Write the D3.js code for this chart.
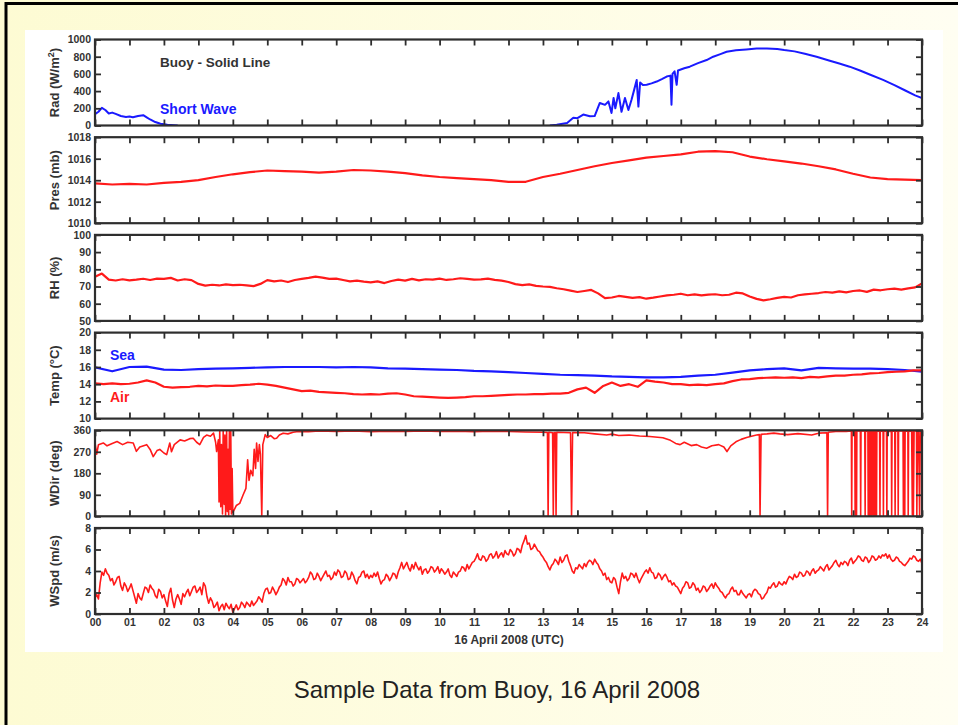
<!DOCTYPE html>
<html>
<head>
<meta charset="utf-8">
<script src="https://cdn.jsdelivr.net/npm/d3@7"></script>
<style>
  html, body { margin: 0; padding: 0; background: #ffffff; }
  svg { display: block; }
  .tick text { font-family: "Liberation Sans", Arial, sans-serif; font-weight: bold; fill: #333; }
</style>
</head>
<body>
<svg id="chart" width="958" height="725"></svg>
<script>
// ---- hour-of-day tick labels ----
const hourTicks = d3.range(0, 25);

// ---- short-wave radiation (W/m^2), [hour, value]; null = sensor off at night ----
const radSW = [
  [0,130],[0.1,160],[0.2,205],[0.3,180],[0.4,140],[0.5,150],[0.6,135],[0.75,110],[0.9,100],[1.0,105],
  [1.1,95],[1.25,110],[1.4,120],[1.5,95],[1.6,70],[1.75,40],[1.9,20],[2.1,8],[2.4,0],[2.5,null],
  [13.1,null],[13.2,0],[13.4,10],[13.7,30],[13.88,89],[14.0,85],[14.17,127],[14.36,107],[14.5,110],[14.65,262],
  [14.8,240],[14.9,280],[14.99,146],[15.05,320],[15.1,200],[15.19,377],[15.28,160],[15.38,320],[15.48,180],[15.57,300],
  [15.65,420],[15.72,530],[15.77,220],[15.82,500],[15.9,470],[16.01,473],[16.15,490],[16.3,511],[16.45,540],[16.59,569],
  [16.7,580],[16.73,242],[16.76,600],[16.82,630],[16.88,473],[16.92,640],[17.1,665],[17.26,684],[17.5,725],[17.75,761],
  [17.94,800],[18.15,830],[18.33,857],[18.6,875],[18.9,885],[19.2,895],[19.5,896],[19.8,890],[20.0,877],[20.3,862],
  [20.6,835],[20.94,800],[21.3,755],[21.6,720],[21.9,684],[22.2,640],[22.5,590],[22.87,530],[23.2,470],[23.5,410],
  [23.8,350],[24,320]
];

// ---- barometric pressure (mb), every 0.5 h ----
const presMb = [
  1013.7,1013.6,1013.65,1013.6,1013.75,1013.85,1014.0,1014.3,1014.55,1014.75,
  1014.9,1014.85,1014.8,1014.7,1014.8,1014.95,1014.9,1014.8,1014.65,1014.45,
  1014.3,1014.2,1014.1,1014.0,1013.85,1013.85,1014.3,1014.6,1014.95,1015.3,
  1015.6,1015.85,1016.1,1016.25,1016.4,1016.65,1016.7,1016.6,1016.2,1015.95,
  1015.75,1015.55,1015.3,1015.0,1014.6,1014.25,1014.1,1014.05,1014.0
];

// ---- relative humidity (%), every 0.2 h ----
const rhPct = [
  75.7,77.5,74.0,73.5,74.2,73.6,74.0,74.5,73.8,74.6,
  74.4,75.0,73.5,74.2,73.7,71.5,70.5,71.0,70.6,71.2,
  70.8,71.0,70.6,70.2,71.5,73.7,73.0,73.5,72.6,73.8,
  74.4,75.0,75.7,75.2,74.4,74.6,73.8,73.0,73.4,72.8,
  72.4,73.0,72.0,73.2,74.0,73.4,74.4,73.6,74.2,74.0,
  74.6,73.8,74.2,74.8,74.4,74.0,74.1,74.6,73.9,73.4,
  72.6,71.4,70.8,71.2,70.4,70.0,69.8,69.0,68.4,67.6,
  66.8,67.4,68.0,66.0,63.2,63.6,64.5,64.0,63.4,63.8,
  62.9,63.5,64.2,64.8,65.2,65.8,64.9,65.4,64.8,65.3,
  65.5,64.9,65.2,66.4,66.0,64.2,62.8,61.9,62.6,63.4,
  64.0,63.6,64.9,65.4,65.8,66.2,66.8,66.4,67.2,66.6,
  67.4,67.7,66.9,68.2,67.8,68.4,68.8,68.2,68.9,69.5,71.8
];

// ---- sea temperature (deg C), every 0.5 h ----
const seaTemp = [
  15.95,15.5,16.0,16.05,15.7,15.65,15.75,15.8,15.85,15.9,
  15.95,16.0,16.0,16.0,15.95,16.0,15.95,15.85,15.8,15.75,
  15.7,15.65,15.55,15.5,15.4,15.3,15.2,15.1,15.05,15.0,
  14.9,14.85,14.8,14.8,14.85,15.0,15.1,15.35,15.6,15.75,
  15.85,15.6,15.9,15.85,15.8,15.8,15.75,15.65,15.45
];

// ---- air temperature (deg C), every 0.25 h ----
const airTemp = [
  14.1,14.0,14.1,14.0,14.05,14.2,14.45,14.2,13.7,13.6,
  13.65,13.7,13.8,13.75,13.85,13.8,13.8,13.9,13.95,14.05,
  13.95,13.8,13.6,13.4,13.2,13.25,13.1,13.05,13.0,12.95,
  12.85,12.8,12.85,12.8,12.9,12.95,12.8,12.6,12.55,12.5,
  12.45,12.4,12.45,12.5,12.6,12.6,12.65,12.7,12.75,12.8,
  12.8,12.85,12.85,12.9,12.9,13.0,13.4,13.6,13.0,13.8,
  14.2,13.8,14.0,13.7,14.45,14.3,14.2,14.0,14.0,13.9,
  13.95,13.9,14.0,14.1,14.35,14.55,14.6,14.7,14.75,14.8,
  14.75,14.8,14.7,14.85,14.8,14.9,15.0,15.0,15.1,15.15,
  15.25,15.3,15.4,15.45,15.5,15.6,15.6
];

// ---- wind direction (deg), [hour, value] ----
const windDir = [
  [0,307],[0.05,260],[0.1,300],[0.24,307],[0.35,295],[0.5,305],[0.64,313],[0.8,300],[0.95,310],[1.11,307],
  [1.2,272],[1.3,290],[1.5,300],[1.6,280],[1.69,250],[1.8,275],[1.88,280],[2.0,265],[2.08,258],[2.17,307],
  [2.22,270],[2.3,300],[2.47,320],[2.6,315],[2.75,325],[2.85,327],[2.95,310],[3.04,300],[3.15,330],[3.24,340],
  [3.35,335],[3.44,348],[3.5,310],[3.53,271],[3.58,320],[3.6,60],[3.62,360],[3.65,40],[3.67,300],[3.7,10],
  [3.72,360],[3.75,50],[3.77,340],[3.79,0],[3.82,360],[3.84,20],[3.86,280],[3.88,5],[3.9,360],[3.92,30],
  [3.94,360],[3.96,10],[3.98,200],[4.0,16],[4.05,30],[4.1,45],[4.2,54],[4.3,90],[4.38,117],[4.43,236],
  [4.47,150],[4.52,193],[4.58,170],[4.62,280],[4.66,200],[4.69,307],[4.73,230],[4.77,300],[4.8,260],[4.84,0],
  [4.87,300],[4.94,342],[5.0,330],[5.1,338],[5.2,325],[5.27,327],[5.35,340],[5.46,348],[5.6,345],[5.75,352],
  [5.9,355],[6.2,354],[6.5,357],[7.0,355],[7.5,357],[8.0,354],[8.5,356],[9.0,355],[9.5,357],[10.0,355],
  [10.5,356],[11.0,354],[11.5,356],[12.0,355],[12.5,353],[13.0,352],[13.13,351],[13.15,0],[13.17,352],[13.28,350],
  [13.3,0],[13.32,350],[13.36,351],[13.38,0],[13.4,352],[13.8,350],[13.83,0],[13.86,351],[14.2,350],[14.5,345],
  [14.85,340],[15.0,344],[15.2,338],[15.5,340],[15.8,336],[16.1,334],[16.48,329],[16.7,318],[16.85,305],[16.98,300],
  [17.1,310],[17.3,296],[17.46,300],[17.6,290],[17.75,285],[17.9,295],[18.1,300],[18.25,290],[18.34,271],[18.45,295],
  [18.6,312],[18.75,322],[18.91,330],[19.05,335],[19.2,340],[19.28,342],[19.3,0],[19.33,343],[19.5,345],[19.7,348],
  [19.87,345],[20.1,342],[20.4,346],[20.8,340],[21.0,348],[21.24,350],[21.26,0],[21.28,352],[21.5,355],[21.8,355],
  [21.95,357],[21.96,2],[21.97,356],[22.05,358],[22.06,4],[22.07,357],[22.09,355],[22.1,1],[22.11,358],[22.21,356],
  [22.22,3],[22.23,357],[22.34,358],[22.35,2],[22.36,355],[22.43,357],[22.44,5],[22.46,356],[22.47,2],[22.49,358],
  [22.5,3],[22.52,354],[22.53,1],[22.55,357],[22.56,6],[22.58,355],[22.59,2],[22.61,357],[22.62,4],[22.64,356],
  [22.65,1],[22.67,358],[22.68,3],[22.69,356],[22.77,357],[22.78,2],[22.79,355],[22.87,358],[22.88,4],[22.89,356],
  [22.97,357],[22.98,1],[22.99,355],[23.11,356],[23.12,3],[23.13,358],[23.21,355],[23.22,2],[23.23,357],[23.3,356],
  [23.31,5],[23.32,357],[23.45,358],[23.46,2],[23.48,355],[23.5,3],[23.51,356],[23.59,357],[23.6,4],[23.61,355],
  [23.7,357],[23.72,6],[23.74,354],[23.75,2],[23.77,356],[23.84,358],[23.85,3],[23.87,355],[23.9,357],[23.93,5],
  [23.95,356],[24.0,355]
];

// ---- wind speed (m/s), every 0.05 h (one row per hour) ----
const windSpd = [
  1.5,1.8,1.4,2.9,3.9,3.6,4.2,3.8,3.6,3.1,3.3,2.7,3.0,3.4,3.5,2.6,2.2,2.9,2.6,2.1,
  2.4,2.8,2.2,1.6,1.0,1.9,1.5,1.3,1.9,2.5,2.4,2.0,2.7,2.4,2.2,1.7,1.5,2.3,2.1,1.5,
  1.8,1.2,0.7,1.9,2.4,1.3,0.6,1.4,1.8,1.4,0.9,1.9,1.6,2.0,2.3,1.7,2.1,2.5,2.6,2.0,
  2.2,2.5,1.8,2.9,2.6,1.6,1.0,1.5,1.2,0.6,0.8,1.1,0.3,0.7,0.9,0.4,1.0,0.7,0.5,0.9,
  0.15,0.5,0.85,0.4,0.6,1.1,0.9,0.6,1.1,0.9,0.7,1.2,0.8,1.0,1.2,1.6,1.4,1.1,1.9,2.3,
  2.4,1.9,2.0,2.5,2.2,1.8,2.1,2.5,2.7,3.3,3.1,2.7,3.4,3.0,3.0,2.6,2.8,3.3,3.2,2.9,
  3.1,3.3,2.9,3.1,3.4,3.9,3.7,3.2,3.3,3.8,3.5,3.1,3.4,3.7,4.0,3.5,3.6,3.2,3.4,3.9,
  3.6,4.1,3.9,3.4,3.5,4.0,3.8,3.2,3.3,3.9,3.6,3.1,2.8,3.4,3.5,3.9,4.0,3.4,3.7,3.3,
  3.6,3.4,3.8,3.5,3.9,3.3,2.8,3.1,3.2,3.7,3.5,3.1,3.4,3.8,3.7,3.3,3.9,4.3,4.8,4.2,
  4.5,4.8,4.3,4.0,4.6,4.2,4.8,4.4,4.1,4.4,3.7,4.1,4.2,3.8,4.0,4.4,4.3,3.9,4.1,4.4,
  3.8,4.2,4.0,3.7,3.9,4.2,3.6,3.4,3.9,3.7,3.5,3.9,4.0,4.4,4.3,4.0,4.6,4.2,4.5,4.8,
  4.9,5.2,5.6,5.1,5.0,5.4,5.3,4.9,5.1,5.5,5.6,5.2,5.4,5.8,5.2,5.5,5.7,5.3,5.9,5.6,
  5.5,6.0,5.8,5.4,5.6,6.1,6.0,5.7,6.4,6.8,7.3,6.5,6.6,6.0,6.1,6.5,6.2,5.9,5.8,5.5,
  5.3,5.0,4.8,4.4,4.1,4.5,4.7,5.1,4.9,4.6,5.3,4.8,5.0,5.4,5.5,4.9,4.5,4.0,3.8,4.3,
  4.2,4.6,4.4,4.2,4.7,4.4,4.8,5.0,4.9,4.6,5.1,4.8,4.6,4.2,4.0,3.6,3.8,3.2,3.4,3.0,
  2.9,3.4,3.2,2.5,1.9,3.0,3.8,3.3,3.5,3.1,3.3,3.8,3.7,3.4,3.8,3.3,2.9,3.3,3.6,3.9,
  4.1,3.8,4.3,3.9,3.8,3.3,3.4,3.8,3.6,3.2,3.5,3.7,3.4,3.0,3.1,2.7,2.9,2.6,2.5,2.2,
  1.9,2.4,2.6,3.0,2.9,2.4,2.5,2.9,2.7,2.2,2.4,2.0,2.2,2.6,2.5,2.1,2.3,2.6,2.8,2.4,
  2.9,2.6,2.4,2.1,2.0,1.7,1.5,1.8,1.9,2.3,2.5,2.1,2.2,1.8,1.8,2.2,1.9,1.7,1.5,1.8,
  1.9,1.6,2.1,2.3,2.2,1.9,1.8,1.4,1.5,1.8,2.0,2.5,2.4,2.7,2.9,2.5,2.6,3.0,2.8,2.7,
  3.0,2.8,3.2,3.5,3.4,3.2,3.7,3.4,3.5,3.9,3.8,3.5,3.6,4.0,3.9,3.6,4.0,4.2,3.8,4.0,
  4.1,4.4,4.2,4.0,4.4,4.6,4.1,4.3,4.5,4.8,5.0,4.6,4.4,4.8,4.6,4.9,4.8,4.5,5.0,5.2,
  4.7,4.9,5.1,5.4,5.3,5.0,4.9,5.3,5.2,4.8,5.0,5.4,5.3,5.0,5.1,5.4,5.2,5.5,5.4,5.6,
  5.2,5.5,5.1,4.9,5.0,5.3,5.2,4.9,4.8,4.6,4.5,4.7,4.9,5.2,5.1,5.4,5.3,5.0,4.9,5.1,
  4.7
];

// pair a regularly sampled series with its hours
const stepped = (vals, dt) => vals.map((v, i) => [i * dt, v]);

const svg = d3.select("#chart");
const W = 958, H = 725;

// page backdrop: pale yellow slide with a white plotting card
const defs = svg.append("defs");
const grad = defs.append("linearGradient").attr("id", "bg").attr("x1", 0).attr("x2", 1).attr("y1", 0).attr("y2", 0);
grad.append("stop").attr("offset", "0%").attr("stop-color", "#fdfbd3");
grad.append("stop").attr("offset", "100%").attr("stop-color", "#fffef2");
svg.append("rect").attr("width", W).attr("height", H).attr("fill", "url(#bg)");
svg.append("line").attr("x1", 6).attr("x2", W).attr("y1", 3.5).attr("y2", 3.5).attr("stroke", "#000").attr("stroke-width", 3);
svg.append("line").attr("x1", 6).attr("x2", 6).attr("y1", 2).attr("y2", H).attr("stroke", "#000").attr("stroke-width", 3);
svg.append("rect").attr("x", 25).attr("y", 30).attr("width", 918).attr("height", 622).attr("fill", "#fff");

const x = d3.scaleLinear().domain([0, 24]).range([95, 922]);
const panelTop0 = 39.5, panelStep = 97.7, panelH = 86;
const frameColor = "#2e2e2e";
const RED = "#ff1a1a", BLUE = "#1a1aff";

const panels = [
  { label: "rad",  domain: [0, 1000],    ticks: d3.range(0, 1001, 200) },
  { label: "Pres (mb)", domain: [1010, 1018], ticks: d3.range(1010, 1019, 2) },
  { label: "RH (%)", domain: [50, 100],   ticks: d3.range(50, 101, 10) },
  { label: "Temp (°C)", domain: [10, 20], ticks: d3.range(10, 21, 2) },
  { label: "WDir (deg)", domain: [0, 360], ticks: [0, 90, 180, 270, 360] },
  { label: "WSpd (m/s)", domain: [0, 8],  ticks: d3.range(0, 9, 2) }
];

panels.forEach((p, i) => {
  p.top = panelTop0 + i * panelStep;
  p.bottom = p.top + panelH;
  p.y = d3.scaleLinear().domain(p.domain).range([p.bottom, p.top]);
  defs.append("clipPath").attr("id", "clip" + i)
    .append("rect").attr("x", x(0)).attr("y", p.top).attr("width", x(24) - x(0)).attr("height", panelH);
});

function drawSeries(i, data, color, width) {
  const p = panels[i];
  const line = d3.line()
    .defined(d => d[1] != null)
    .x(d => x(d[0]))
    .y(d => p.y(d[1]));
  svg.append("path")
    .datum(data)
    .attr("clip-path", "url(#clip" + i + ")")
    .attr("fill", "none")
    .attr("stroke", color)
    .attr("stroke-width", width)
    .attr("stroke-linejoin", "round")
    .attr("d", line);
}

drawSeries(0, radSW, BLUE, 2);
drawSeries(1, stepped(presMb, 0.5), RED, 2.2);
drawSeries(2, stepped(rhPct, 0.2), RED, 2.2);
drawSeries(3, stepped(seaTemp, 0.5), BLUE, 2.2);
drawSeries(3, stepped(airTemp, 0.25), RED, 2.2);
drawSeries(4, windDir, RED, 1.6);
drawSeries(5, stepped(windSpd, 0.05), RED, 1.6);

// axes: boxed frames with inward ticks on all four sides
panels.forEach((p, i) => {
  const g = svg.append("g");
  const isLast = i === panels.length - 1;

  g.append("g").attr("transform", `translate(0,${p.top})`)
    .call(d3.axisTop(x).tickValues(hourTicks).tickSize(-6).tickFormat(""));
  g.append("g").attr("transform", `translate(0,${p.bottom})`)
    .call(d3.axisBottom(x).tickValues(hourTicks).tickSize(-6).tickPadding(5)
      .tickFormat(isLast ? d3.format("02d") : ""));
  g.append("g").attr("transform", `translate(${x(0)},0)`)
    .call(d3.axisLeft(p.y).tickValues(p.ticks).tickSize(-6).tickPadding(4).tickFormat(d3.format("d")));
  g.append("g").attr("transform", `translate(${x(24)},0)`)
    .call(d3.axisRight(p.y).tickValues(p.ticks).tickSize(-6).tickFormat(""));

  g.selectAll(".domain").remove();
  g.selectAll(".tick line").attr("stroke", frameColor).attr("stroke-width", 1.8);
  g.selectAll(".tick text").attr("font-size", 10.5);

  g.append("rect")
    .attr("x", x(0)).attr("y", p.top)
    .attr("width", x(24) - x(0)).attr("height", panelH)
    .attr("fill", "none").attr("stroke", frameColor).attr("stroke-width", 2.2);

  // rotated y-axis title
  const t = g.append("text")
    .attr("transform", `translate(59,${(p.top + p.bottom) / 2}) rotate(-90)`)
    .attr("text-anchor", "middle")
    .attr("font-family", "Liberation Sans, Arial, sans-serif")
    .attr("font-weight", "bold")
    .attr("font-size", 13)
    .attr("fill", "#333");
  if (p.label === "rad") {
    t.append("tspan").text("Rad (W/m");
    t.append("tspan").attr("font-size", 9).attr("dy", -5).text("2");
    t.append("tspan").attr("dy", 5).text(")");
  } else {
    t.text(p.label);
  }
});

// time axis title
svg.append("text")
  .attr("x", 509).attr("y", 644)
  .attr("text-anchor", "middle")
  .attr("font-family", "Liberation Sans, Arial, sans-serif")
  .attr("font-weight", "bold").attr("font-size", 12).attr("fill", "#333")
  .text("16 April 2008 (UTC)");

// in-plot annotations
function note(tx, ty, str, color, size) {
  svg.append("text")
    .attr("x", tx).attr("y", ty)
    .attr("font-family", "Liberation Sans, Arial, sans-serif")
    .attr("font-weight", "bold").attr("font-size", size).attr("fill", color)
    .text(str);
}
note(160, 67, "Buoy - Solid Line", "#333", 13.5);
note(160, 113.5, "Short Wave", BLUE, 14);
note(110, 360, "Sea", BLUE, 14);
note(110, 402, "Air", RED, 14);

// slide caption
svg.append("text")
  .attr("x", 497).attr("y", 698)
  .attr("text-anchor", "middle")
  .attr("font-family", "Liberation Sans Narrow, Arial Narrow, sans-serif")
  .attr("font-size", 24).attr("fill", "#222")
  .text("Sample Data from Buoy, 16 April 2008");
</script>
</body>
</html>
